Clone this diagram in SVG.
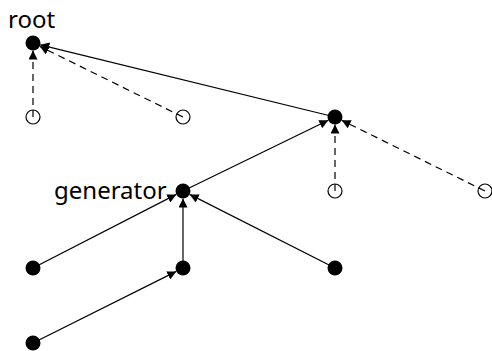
<svg xmlns="http://www.w3.org/2000/svg" width="492" height="351" viewBox="0 0 492 351">
<style>
.e{stroke:#000;stroke-width:1.2;fill:none;marker-end:url(#ah)}
.d{stroke-dasharray:7,5}
.n{fill:#000}
.o{fill:none;stroke:#000;stroke-width:1.2}
.t{font-family:"Noto Sans",sans-serif;font-size:24px;fill:#000}
</style>
<defs>
<marker id="ah" markerUnits="userSpaceOnUse" markerWidth="9" markerHeight="9" viewBox="0 0 9 9" refX="9" refY="4.5" orient="auto">
<path d="M0,0 L9,4.5 L0,9 z" fill="#000"/>
</marker>
</defs>
<g id="edges">
<line class="e d" x1="33" y1="117" x2="33" y2="50.5"/>
<line class="e d" x1="183" y1="117" x2="39.7" y2="46.3"/>
<line class="e" x1="335" y1="117" x2="40.3" y2="44.8"/>
<line class="e" x1="183" y1="191" x2="328.3" y2="120.3"/>
<line class="e d" x1="335" y1="191" x2="335" y2="124.5"/>
<line class="e d" x1="485" y1="191" x2="341.7" y2="120.3"/>
<line class="e" x1="33" y1="268" x2="176.3" y2="194.4"/>
<line class="e" x1="183" y1="268" x2="183" y2="198.5"/>
<line class="e" x1="335" y1="268" x2="189.7" y2="194.4"/>
<line class="e" x1="33" y1="343" x2="176.3" y2="271.4"/>
</g>
<g id="root"><circle class="n" cx="33" cy="43" r="7.5"/><text class="t" x="8" y="28">root</text></g>
<g id="a"><circle class="o" cx="33" cy="117" r="7"/></g>
<g id="b"><circle class="o" cx="183" cy="117" r="7"/></g>
<g id="n"><circle class="n" cx="335" cy="117" r="7.5"/></g>
<g id="c"><circle class="o" cx="335" cy="191" r="7"/></g>
<g id="dd"><circle class="o" cx="485" cy="191" r="7"/></g>
<g id="generator"><circle class="n" cx="183" cy="191" r="7.5"/><text class="t" x="54" y="199">generator</text></g>
<g id="l1"><circle class="n" cx="33" cy="268" r="7.5"/></g>
<g id="m"><circle class="n" cx="183" cy="268" r="7.5"/></g>
<g id="rt"><circle class="n" cx="335" cy="268" r="7.5"/></g>
<g id="l2"><circle class="n" cx="33" cy="343" r="7.5"/></g>
</svg>
